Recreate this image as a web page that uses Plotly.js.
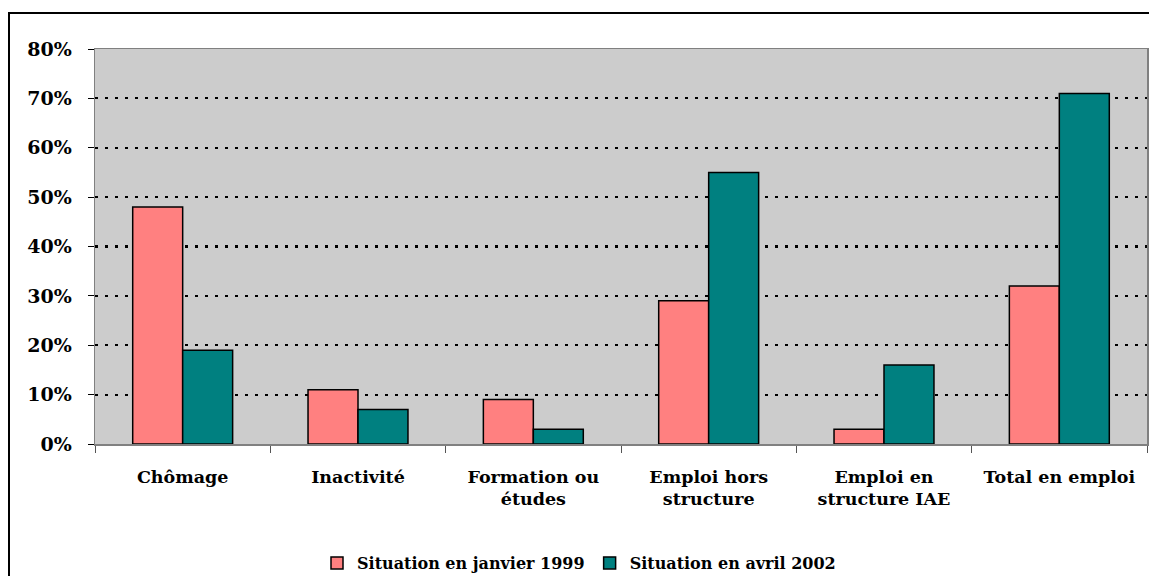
<!DOCTYPE html>
<html><head><meta charset="utf-8">
<script src="https://cdn.plot.ly/plotly-3.0.1.min.js"></script>
<style>html,body{margin:0;padding:0;background:#fff}#c{width:1149px;height:576px}</style>
</head><body><div id="c"></div>
<script>
const categories = ["Chômage", "Inactivité", "Formation ou<br>études", "Emploi hors<br>structure", "Emploi en<br>structure IAE", "Total en emploi"];
const seriesNames = ["Situation en janvier 1999", "Situation en avril 2002"];
const values1999 = [0.48, 0.11, 0.09, 0.29, 0.03, 0.32];
const values2002 = [0.19, 0.07, 0.03, 0.55, 0.16, 0.71];
const colors = ["#FF8080", "#008080"];

const fontFam = "DejaVu Serif, serif";
const traces = [values1999, values2002].map((v, i) => ({
  type: "bar", x: categories, y: v, name: seriesNames[i],
  marker: {color: colors[i], line: {color: "#000", width: 1.5}},
  hoverinfo: "skip"
}));

const L = 95, R = 2, T = 49, B = 132, W = 1149, H = 576;
const pw = W - L - R, ph = H - T - B;
const layout = {
  width: W, height: H,
  margin: {l: L, r: R, t: T, b: B, pad: 0, autoexpand: false},
  paper_bgcolor: "#fff", plot_bgcolor: "#cccccc",
  barmode: "group", bargap: 0.43, bargroupgap: 0,
  font: {family: fontFam, size: 16, color: "#000", weight: 700},
  showlegend: true,
  legend: {orientation: "h", xref: "container", x: 579 / W, xanchor: "center",
           yref: "container", y: (H - 563) / H, yanchor: "middle",
           font: {family: fontFam, size: 16, weight: 700}, traceorder: "normal",
           itemwidth: 30, tracegroupgap: 0},
  xaxis: {type: "category", showgrid: false, ticks: "outside", tickson: "boundaries",
          ticklen: 7, tickcolor: "#555", showline: true, linecolor: "#808080", linewidth: 1.5,
          mirror: true, tickfont: {family: fontFam, size: 17.5, weight: 700}, zeroline: false,
          ticklabelstandoff: 16, automargin: false},
  yaxis: {range: [0, 0.8], dtick: 0.1, tickformat: ".0%", showgrid: true, gridcolor: "#000",
          gridwidth: 2.2, griddash: "3px,7px", ticks: "outside", ticklen: 6, tickcolor: "#000",
          showline: true, linecolor: "#808080", linewidth: 1.5, mirror: true, zeroline: false,
          tickfont: {family: fontFam, size: 19, weight: 700}, ticklabelstandoff: 12, automargin: false},
  shapes: [{type: "rect", xref: "paper", yref: "paper",
            x0: (9 - L) / pw, x1: (W + 20 - L) / pw,
            y0: -(B + 20) / ph, y1: (H - B - 13) / ph,
            line: {color: "#000", width: 2}, fillcolor: "rgba(0,0,0,0)", layer: "below"}]
};
Plotly.newPlot("c", traces, layout, {displayModeBar: false, staticPlot: true});
</script></body></html>
